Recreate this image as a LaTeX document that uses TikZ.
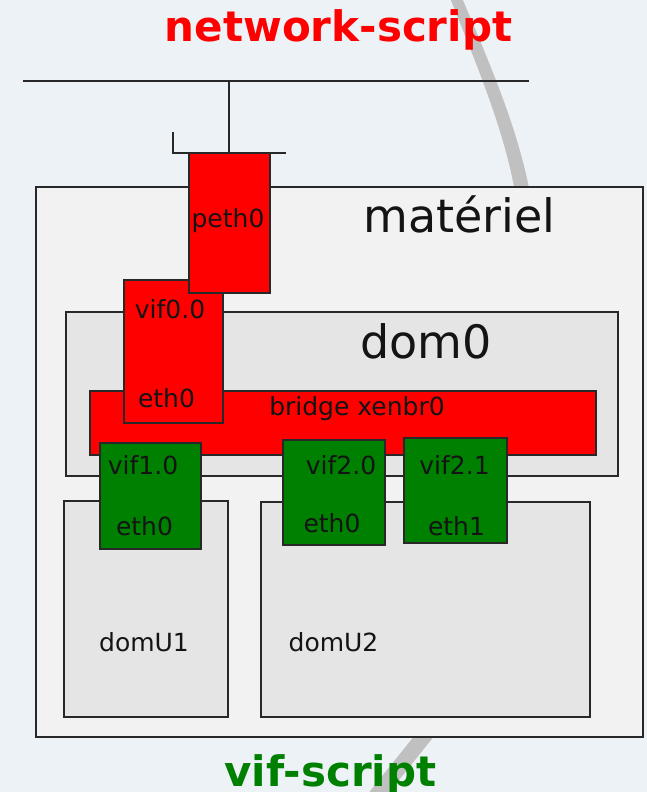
\documentclass[tikz,border=0pt]{standalone}
\usepackage{fontspec}
\setmainfont{DejaVu Sans}
\usepackage{tikz}
\usetikzlibrary{positioning}
\usepackage{xcolor}
\definecolor{bgclr}{RGB}{237, 242, 247}
\definecolor{hwfill}{RGB}{242, 242, 242}
\definecolor{domfill}{RGB}{229, 229, 229}
\definecolor{ifred}{RGB}{255, 0, 0}
\definecolor{ifgreen}{RGB}{0, 128, 0}
\definecolor{edgeclr}{RGB}{40, 40, 40}
\definecolor{labclr}{RGB}{20, 20, 20}
\definecolor{arcclr}{RGB}{192, 192, 192}
\tikzset{
  % boxes
  hwbox/.style    = {rectangle, inner sep=0pt, fill=hwfill, draw=edgeclr, line width=2pt},
  dombox/.style   = {rectangle, inner sep=0pt, fill=domfill, draw=edgeclr, line width=2pt},
  redbox/.style   = {rectangle, inner sep=0pt, fill=ifred, draw=edgeclr, line width=1.6pt},
  greenbox/.style = {rectangle, inner sep=0pt, fill=ifgreen, draw=edgeclr, line width=1.6pt},
  % wires
  netline/.style  = {draw=edgeclr, line width=1.8pt},
  tapline/.style  = {draw=edgeclr, line width=1.4pt},
  % labels
  lab/.style      = {font=\fontsize{25}{30}\selectfont, text=labclr, inner sep=0pt, anchor=base},
  biglab/.style   = {font=\fontsize{46}{55}\selectfont, text=labclr, inner sep=0pt, anchor=base},
  scriptlab/.style= {font=\bfseries\fontsize{42}{50}\selectfont, inner sep=0pt, anchor=base},
}

\begin{document}
\begin{tikzpicture}[x=1pt, y=-1pt]
  % background
  \fill[bgclr] (0,0) rectangle (647,792);
  \useasboundingbox (0,0) rectangle (647,792);
  \clip (0,0) rectangle (647,792);
  % gray arc behind the machine
  \fill[arcclr] (450,-2) .. controls (480,73) and (508,140) .. (517,205)
    -- (532,205) .. controls (522,140) and (494,73) .. (462,-2) -- cycle;
  \fill[arcclr] (423,725) -- (443,725) -- (383,800) -- (363,800) -- cycle;
  % network wire
  \coordinate (netL) at (23,81);
  \coordinate (netR) at (529,81);
  \coordinate (tap)  at (229,81);
  \coordinate (brkT) at (173,132);
  \coordinate (brkR) at (286,153);
  \draw[netline] (netL) -- (netR);
  \draw[tapline] (tap) -- (tap |- brkR);
  \draw[tapline] (brkT) |- (brkR);
  % hardware
  \node[hwbox, minimum width=607, minimum height=550] (materiel) at (339.5,462) {};
  \node[biglab] (materiellab) at (459.5,232) {matériel};
  % dom0
  \node[dombox, minimum width=552, minimum height=164] (dom0) at (342,394) {};
  \node[biglab] (dom0lab) at (426,358) {dom0};
  % domU boxes
  \node[dombox, minimum width=164, minimum height=216] (domU1) at (146,609) {};
  \node[dombox, minimum width=329, minimum height=215] (domU2) at (425.5,609.5) {};
  \node[lab] (domU1lab) at (144,651) {domU1};
  \node[lab] (domU2lab) at (333.5,651) {domU2};
  % bridge
  \node[redbox, minimum width=506, minimum height=64] (bridge) at (343,423) {};
  \node[lab] (bridgelab) at (357,415) {bridge xenbr0};
  % vif0.0 and peth0
  \node[redbox, minimum width=99, minimum height=143] (vif00) at (173.5,351.5) {};
  \node[lab] (vif00lab) at (170,318) {vif0.0};
  \node[lab] (eth0dlab) at (166.5,407) {eth0};
  \node[redbox, minimum width=81, minimum height=140] (peth0) at (229.5,223) {};
  \node[lab] (peth0lab) at (228,227) {peth0};
  % guest interfaces
  \node[greenbox, minimum width=101, minimum height=106] (vif10) at (150.5,496) {};
  \node[lab] (vif10lab) at (143,474) {vif1.0};
  \node[lab] (eth0alab) at (144.5,535) {eth0};
  \node[greenbox, minimum width=102, minimum height=105] (vif20) at (334,492.5) {};
  \node[lab] (vif20lab) at (341,474) {vif2.0};
  \node[lab] (eth0blab) at (332,532) {eth0};
  \node[greenbox, minimum width=103, minimum height=105] (vif21) at (455.5,490.5) {};
  \node[lab] (vif21lab) at (454.5,474) {vif2.1};
  \node[lab] (eth1lab) at (456.5,535) {eth1};
  % scripts
  \node[scriptlab, text=ifred] (netscript) at (338.5,42) {network-script};
  \node[scriptlab, text=ifgreen] (vifscript) at (330.5,786) {vif-script};
\end{tikzpicture}
\end{document}
